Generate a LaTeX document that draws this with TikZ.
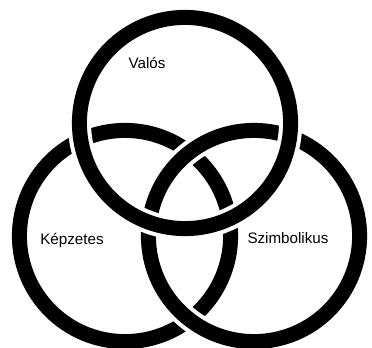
\documentclass[tikz,border=0pt]{standalone}
\usepackage{fontspec}
\setmainfont{Liberation Sans}
\usepackage{tikz}
\usetikzlibrary{positioning}

\begin{document}
\begin{tikzpicture}[
  ring/.style={draw=black,line width=0.375cm},
  overring/.style={ring,preaction={draw=white,line width=0.58cm}},
  felirat/.style={font=\fontsize{10.8}{13}\selectfont}]
  \useasboundingbox (0,0) rectangle (9.3,8.675);

  % körök középpontjai
  \coordinate (ck) at (3.125,2.775);
  \coordinate (cs) at (6.35,2.775);
  \coordinate (cv) at (4.625,5.6);

  % Képzetes alul, Szimbolikus középen, Valós felül
  \draw[ring] (ck) circle (2.64);
  \draw[overring] (cs) circle (2.64);
  \draw[overring] (cv) circle (2.64);

  % feliratok
  \node[felirat] (valos) at (3.675,7.1) {Valós};
  \node[felirat] (kepzetes) at (1.8,2.675) {Képzetes};
  \node[felirat] (szimb) at (7.2,2.725) {Szimbolikus};
\end{tikzpicture}
\end{document}
